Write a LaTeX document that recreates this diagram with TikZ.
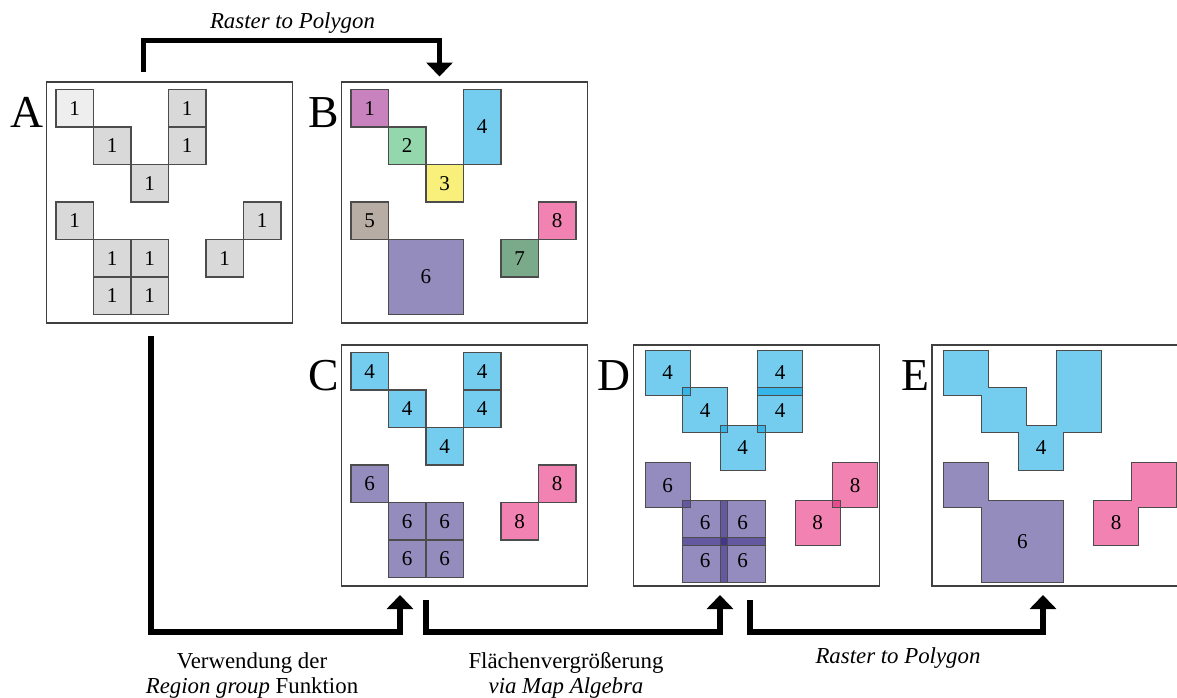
\documentclass[tikz,border=0pt]{standalone}
\usepackage{fontspec}
\setmainfont{Liberation Serif}
\usetikzlibrary{arrows.meta,positioning}

\definecolor{cellgray}{RGB}{217,217,217}
\definecolor{cellpale}{RGB}{238,238,238}
\definecolor{rmauve}{RGB}{200,131,190}
\definecolor{rmint}{RGB}{148,215,172}
\definecolor{ryellow}{RGB}{248,240,122}
\definecolor{rblue}{RGB}{116,204,239}
\definecolor{rtaupe}{RGB}{184,173,164}
\definecolor{rpurple}{RGB}{148,140,189}
\definecolor{rgreen}{RGB}{122,170,138}
\definecolor{rpink}{RGB}{242,130,178}
\definecolor{tblue}{RGB}{2,162,226}
\definecolor{tpurple}{RGB}{60,46,137}
\definecolor{tpink}{RGB}{231,28,115}

\begin{document}
\begin{tikzpicture}[x=0.02cm, y=-0.02cm, font=\fontsize{12}{14}\selectfont,
    panel/.style={draw=black!75, line width=0.8pt},
    cell/.style={draw=black!70, line width=0.6pt},
    spread/.style={fill opacity=0.55},
    tag/.style={font=\fontsize{26}{28}\selectfont, anchor=base east, inner sep=0pt},
    note/.style={font=\fontsize{13}{14.5}\selectfont, align=center, inner sep=0pt},
    flow/.style={line width=3pt, -{Triangle[width=0.52cm, length=0.28cm]}}]
  \useasboundingbox (0, 0) rectangle (1177, 697);

  % panels
  \draw[panel] (46.5, 82) rectangle +(246, 241)
               (341.5, 82) rectangle +(246, 241)
               (341.5, 345) rectangle +(246, 241)
               (633.5, 345) rectangle +(246, 241)
               (932, 345) rectangle +(260, 241);
  \node (lA) [tag] at (44, 127) {A};
  \node (lB) [tag] at (339, 127) {B};
  \node (lC) [tag] at (339, 390) {C};
  \node (lD) [tag] at (631, 390) {D};
  \node (lE) [tag] at (929.5, 390) {E};

  % A: raster
  \begin{scope}[shift={(56, 89.5)}, scale=37.5]
    \draw[cell, fill=cellpale] (0, 0) rectangle (1, 1) node (a1) [pos=.5] {1};
    \draw[cell, fill=cellgray]
          (1, 1) rectangle (2, 2) node (a2) [pos=.5] {1}
          (2, 2) rectangle (3, 3) node (a3) [pos=.5] {1}
          (3, 0) rectangle (4, 1) node (a4) [pos=.5] {1}
          (3, 1) rectangle (4, 2) node (a5) [pos=.5] {1}
          (0, 3) rectangle (1, 4) node (a6) [pos=.5] {1}
          (1, 4) rectangle (2, 5) node (a7) [pos=.5] {1}
          (2, 4) rectangle (3, 5) node (a8) [pos=.5] {1}
          (1, 5) rectangle (2, 6) node (a9) [pos=.5] {1}
          (2, 5) rectangle (3, 6) node (a10) [pos=.5] {1}
          (5, 3) rectangle (6, 4) node (a11) [pos=.5] {1}
          (4, 4) rectangle (5, 5) node (a12) [pos=.5] {1};
  \end{scope}

  % B: polygons
  \begin{scope}[shift={(351, 89.5)}, scale=37.5]
    \draw[cell, fill=rmauve] (0, 0) rectangle (1, 1) node (b1) [pos=.5] {1};
    \draw[cell, fill=rmint] (1, 1) rectangle (2, 2) node (b2) [pos=.5] {2};
    \draw[cell, fill=ryellow] (2, 2) rectangle (3, 3) node (b3) [pos=.5] {3};
    \draw[cell, fill=rblue] (3, 0) rectangle (4, 2) node (b4) [pos=.5] {4};
    \draw[cell, fill=rtaupe] (0, 3) rectangle (1, 4) node (b5) [pos=.5] {5};
    \draw[cell, fill=rpurple] (1, 4) rectangle (3, 6) node (b6) [pos=.5] {6};
    \draw[cell, fill=rgreen] (4, 4) rectangle (5, 5) node (b7) [pos=.5] {7};
    \draw[cell, fill=rpink] (5, 3) rectangle (6, 4) node (b8) [pos=.5] {8};
  \end{scope}

  % C: region group
  \begin{scope}[shift={(351, 352.5)}, scale=37.5]
    \draw[cell, fill=rblue]
          (0, 0) rectangle (1, 1) node (c1) [pos=.5] {4}
          (1, 1) rectangle (2, 2) node (c2) [pos=.5] {4}
          (2, 2) rectangle (3, 3) node (c3) [pos=.5] {4}
          (3, 0) rectangle (4, 1) node (c4) [pos=.5] {4}
          (3, 1) rectangle (4, 2) node (c5) [pos=.5] {4};
    \draw[cell, fill=rpurple]
          (0, 3) rectangle (1, 4) node (c6) [pos=.5] {6}
          (1, 4) rectangle (2, 5) node (c7) [pos=.5] {6}
          (2, 4) rectangle (3, 5) node (c8) [pos=.5] {6}
          (1, 5) rectangle (2, 6) node (c9) [pos=.5] {6}
          (2, 5) rectangle (3, 6) node (c10) [pos=.5] {6};
    \draw[cell, fill=rpink]
          (5, 3) rectangle (6, 4) node (c11) [pos=.5] {8}
          (4, 4) rectangle (5, 5) node (c12) [pos=.5] {8};
  \end{scope}

  % D: grown cells
  \begin{scope}[shift={(649, 354)}, scale=37.5]
    \fill[spread, tblue] (-.1, -.1) rectangle (1.1, 1.1);
    \fill[spread, tblue] (.9, .9) rectangle (2.1, 2.1);
    \fill[spread, tblue] (1.9, 1.9) rectangle (3.1, 3.1);
    \fill[spread, tblue] (2.9, -.1) rectangle (4.1, 1.1);
    \fill[spread, tblue] (2.9, .9) rectangle (4.1, 2.1);
    \fill[spread, tpurple] (-.1, 2.9) rectangle (1.1, 4.1);
    \fill[spread, tpurple] (.9, 3.9) rectangle (2.1, 5.1);
    \fill[spread, tpurple] (1.9, 3.9) rectangle (3.1, 5.1);
    \fill[spread, tpurple] (.9, 4.9) rectangle (2.1, 6.1);
    \fill[spread, tpurple] (1.9, 4.9) rectangle (3.1, 6.1);
    \fill[spread, tpink] (4.9, 2.9) rectangle (6.1, 4.1);
    \fill[spread, tpink] (3.9, 3.9) rectangle (5.1, 5.1);
    \draw[cell]
          (-.1, -.1) rectangle (1.1, 1.1) node (d1) [pos=.5] {4}
          (.9, .9) rectangle (2.1, 2.1) node (d2) [pos=.5] {4}
          (1.9, 1.9) rectangle (3.1, 3.1) node (d3) [pos=.5] {4}
          (2.9, -.1) rectangle (4.1, 1.1) node (d4) [pos=.5] {4}
          (2.9, .9) rectangle (4.1, 2.1) node (d5) [pos=.5] {4}
          (-.1, 2.9) rectangle (1.1, 4.1) node (d6) [pos=.5] {6}
          (.9, 3.9) rectangle (2.1, 5.1) node (d7) [pos=.5] {6}
          (1.9, 3.9) rectangle (3.1, 5.1) node (d8) [pos=.5] {6}
          (.9, 4.9) rectangle (2.1, 6.1) node (d9) [pos=.5] {6}
          (1.9, 4.9) rectangle (3.1, 6.1) node (d10) [pos=.5] {6}
          (4.9, 2.9) rectangle (6.1, 4.1) node (d11) [pos=.5] {8}
          (3.9, 3.9) rectangle (5.1, 5.1) node (d12) [pos=.5] {8};
  \end{scope}

  % E: polygons
  \begin{scope}[shift={(947.5, 354)}, scale=37.5]
    \draw[cell, fill=rblue] (-.1, -.1) -- (1.1, -.1) -- (1.1, .9) -- (2.1, .9)
          -- (2.1, 1.9) -- (2.9, 1.9) -- (2.9, -.1) -- (4.1, -.1) -- (4.1, 2.1)
          -- (3.1, 2.1) -- (3.1, 3.1) -- (1.9, 3.1) -- (1.9, 2.1) -- (.9, 2.1)
          -- (.9, 1.1) -- (-.1, 1.1) -- cycle;
    \draw[cell, fill=rpurple] (-.1, 2.9) -- (1.1, 2.9) -- (1.1, 3.9) -- (3.1, 3.9)
          -- (3.1, 6.1) -- (.9, 6.1) -- (.9, 4.1) -- (-.1, 4.1) -- cycle;
    \draw[cell, fill=rpink] (4.9, 2.9) -- (6.1, 2.9) -- (6.1, 4.1) -- (5.1, 4.1)
          -- (5.1, 5.1) -- (3.9, 5.1) -- (3.9, 3.9) -- (4.9, 3.9) -- cycle;
    \node (e4) at (2.5, 2.5) {4};
    \node (e6) at (2, 5) {6};
    \node (e8) at (4.5, 4.5) {8};
  \end{scope}

  % arrows
  \coordinate (a-top) at (143.5, 72);
  \coordinate (b-in) at (439.5, 76.5);
  \coordinate (top-lvl) at (0, 40.5);
  \coordinate (a-bot) at (151, 336);
  \coordinate (c-in) at (400, 595);
  \coordinate (c-out) at (426, 600);
  \coordinate (d-in) at (720, 595);
  \coordinate (d-out) at (750, 600);
  \coordinate (e-in) at (1043, 595);
  \coordinate (bot-lvl) at (0, 632);
  \draw[flow] (a-top) -- (a-top |- top-lvl) -- (b-in |- top-lvl) -- (b-in);
  \draw[flow] (a-bot) -- (a-bot |- bot-lvl) -- (c-in |- bot-lvl) -- (c-in);
  \draw[flow] (c-out) -- (c-out |- bot-lvl) -- (d-in |- bot-lvl) -- (d-in);
  \draw[flow] (d-out) -- (d-out |- bot-lvl) -- (e-in |- bot-lvl) -- (e-in);

  \node (t1) [note, anchor=base] at (292.5, 28.5) {\itshape Raster to Polygon};
  \node (t2) [note, anchor=north] at (252, 652) {Verwendung der\\ \textit{Region group} Funktion};
  \node (t3) [note, anchor=north] at (566, 652) {Flächenvergrößerung\\ \textit{via Map Algebra}};
  \node (t4) [note, anchor=base] at (898, 663) {\itshape Raster to Polygon};
\end{tikzpicture}
\end{document}
